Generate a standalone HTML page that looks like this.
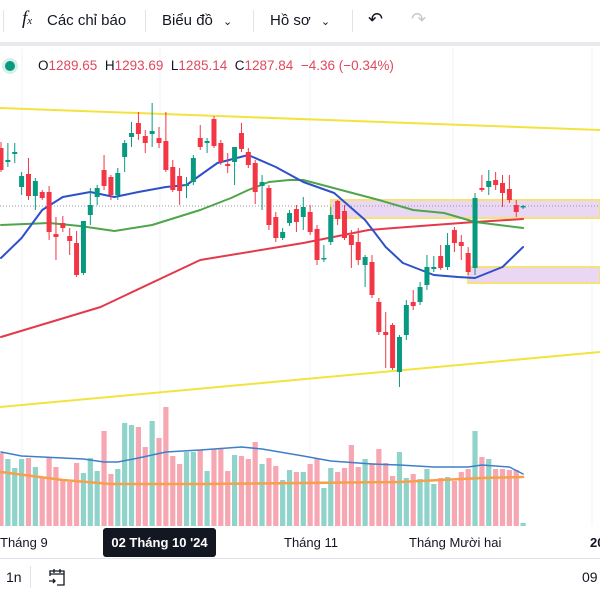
<!DOCTYPE html>
<html><head><meta charset="utf-8">
<style>
html,body{margin:0;padding:0;background:#fff;width:600px;height:600px;overflow:hidden;font-family:"Liberation Sans","Noto Sans CJK SC",sans-serif;}
#tb{position:absolute;left:0;top:0;width:600px;height:42px;background:#fff;}
#tbline{position:absolute;left:0;top:42px;width:600px;height:4px;background:#e9eaee;}
.t{position:absolute;color:#131722;font-size:15px;white-space:nowrap;}
.sep{position:absolute;top:10px;width:1px;height:22px;background:#e0e3eb;}
#legend{position:absolute;left:38px;top:58px;font-size:13.5px;white-space:nowrap;color:#131722;}
#legend .v{color:#e0495e;}
#chart{position:absolute;left:0;top:0;}
#ax{position:absolute;left:0;top:558px;width:600px;height:1px;background:#e0e3eb;}
</style></head><body>
<div id="tb">
  <div class="sep" style="left:3px"></div>
  <div class="t" style="left:22px;top:8px;font-family:'Liberation Serif',serif;font-style:italic;font-size:19px">f<span style="font-size:11px">x</span></div>
  <div class="t" style="left:47px;top:12px">Các chỉ báo</div>
  <div class="sep" style="left:145px"></div>
  <div class="t" style="left:162px;top:12px">Biểu đồ <span style="font-size:11px;margin-left:6px">&#8964;</span></div>
  <div class="sep" style="left:253px"></div>
  <div class="t" style="left:270px;top:12px">Hồ sơ <span style="font-size:11px;margin-left:6px">&#8964;</span></div>
  <div class="sep" style="left:352px"></div>
  <div class="t" style="left:368px;top:9px;font-size:18px">&#8630;</div>
  <div class="t" style="left:411px;top:9px;font-size:18px;color:#c5c8d0">&#8631;</div>
</div>
<div id="tbline"></div>
<svg id="chart" width="600" height="600"></svg>
<div style="position:absolute;left:5px;top:61px;width:10px;height:10px;border-radius:50%;background:#089981;box-shadow:0 0 0 3px #d6efe9"></div>
<div id="legend">O<span class="v">1289.65</span>&nbsp; H<span class="v">1293.69</span>&nbsp; L<span class="v">1285.14</span>&nbsp; C<span class="v">1287.84</span>&nbsp; <span class="v">−4.36 (−0.34%)</span></div>
<div id="ax"></div>
<div class="t" style="left:0px;top:535px;font-size:13px">Tháng 9</div>
<div style="position:absolute;left:103px;top:528px;width:113px;height:29px;background:#131722;border-radius:3px;color:#fff;font-size:13px;font-weight:bold;line-height:29px;text-align:center">02 Tháng 10 '24</div>
<div class="t" style="left:284px;top:535px;font-size:13px">Tháng 11</div>
<div class="t" style="left:409px;top:535px;font-size:13px">Tháng Mười hai</div>
<div class="t" style="left:590px;top:535px;font-size:13px;font-weight:bold">20</div>
<div class="t" style="left:6px;top:569px;font-size:14px">1n</div>
<div style="position:absolute;left:30px;top:566px;width:1px;height:22px;background:#e0e3eb"></div>
<svg style="position:absolute;left:46px;top:566px" width="22" height="22"><path d="M4 10V5h14v14h-7M4 8h14M8 3v4M14 3v4M3 15h6M7 13l2 2-2 2" fill="none" stroke="#131722" stroke-width="1.3"/></svg>
<div class="t" style="left:582px;top:569px;font-size:14px">09</div>
<script>
const opens=[1352,1338,1346,1313,1326,1304,1308,1308,1266,1277,1264,1257,1227,1285,1303,1330,1323,1305,1343,1363,1377,1364,1366,1362,1359,1333,1324,1314,1318,1362,1357,1381,1357,1336,1338,1367,1348,1337,1314,1312,1283,1262,1277,1291,1283,1288,1271,1241,1258,1299,1289,1265,1258,1235,1238,1198,1168,1175,1128,1165,1198,1198,1215,1231,1244,1233,1270,1258,1247,1232,1312,1313,1320,1317,1311,1295,1293];
const highs=[1358,1357,1357,1328,1342,1322,1310,1314,1283,1284,1272,1269,1279,1312,1315,1345,1325,1332,1360,1378,1388,1370,1397,1373,1388,1340,1332,1323,1345,1375,1362,1384,1360,1347,1353,1377,1352,1340,1325,1315,1288,1272,1290,1295,1303,1295,1275,1255,1293,1300,1295,1270,1272,1245,1245,1202,1188,1177,1165,1200,1210,1218,1245,1244,1255,1267,1273,1265,1253,1307,1325,1330,1328,1325,1325,1300,1295];
const lows=[1328,1333,1337,1305,1300,1290,1300,1260,1240,1268,1245,1223,1225,1275,1295,1310,1300,1300,1328,1353,1360,1347,1353,1352,1328,1308,1295,1302,1315,1350,1347,1352,1335,1327,1315,1348,1332,1296,1290,1270,1258,1260,1274,1268,1270,1265,1235,1238,1255,1275,1260,1232,1235,1213,1202,1165,1132,1130,1113,1160,1190,1195,1210,1228,1230,1230,1248,1240,1225,1225,1308,1305,1310,1293,1297,1283,1291];
const closes=[1330,1340,1348,1324,1304,1319,1302,1268,1263,1272,1259,1225,1279,1295,1312,1314,1305,1327,1357,1367,1366,1357,1369,1357,1330,1310,1309,1316,1342,1353,1359,1354,1338,1334,1353,1351,1335,1308,1318,1275,1262,1268,1287,1278,1293,1268,1240,1242,1285,1281,1262,1255,1240,1243,1205,1168,1165,1132,1163,1195,1194,1213,1233,1233,1232,1255,1257,1254,1228,1302,1310,1319,1315,1307,1300,1288,1294];
const volumes=[73,67,58,67,68,59,49,68,59,46,44,63,53,68,55,95,52,57,103,101,99,79,105,88,119,70,62,74,74,76,55,77,77,55,71,70,67,84,62,68,60,46,56,54,54,62,67,38,58,54,58,81,59,67,63,77,63,50,74,48,52,47,57,42,48,49,45,54,57,95,69,67,57,57,56,56,3];
const ma20Idx=[0,3,6,9,13,16.5,20,24,27,31.5,36,40,44,48.5,53,56,58.5,63,66.5,69,73,76];
const ma20Val=[1242,1262,1290,1303,1308,1303,1308,1313,1315,1337,1345,1333,1318,1307,1280,1253,1237,1225,1223,1222,1233,1253];
const ma50Idx=[0,7,11.5,16.5,22,29,33.5,36,39,42,44,55,60,64.5,69,76];
const ma50Val=[1275,1277,1274,1269,1275,1290,1302,1310,1318,1320,1320,1300,1290,1287,1278,1272];
const ma200Idx=[0,14.5,29,44,53.5,63,69,76];
const ma200Val=[1163,1193,1240,1257,1270,1275,1278,1281];
const volMaIdx=[0,3,9,12,15,17,20,24,29,35,38,44,48,54,58,63,68,70,74,76];
const volMaVal=[74,70,68,67,64,64,68,74,76,79,77,70,65,62,61,59,59,61,59,52];
const volMa2Idx=[0,9,16,29,44,58,70,76];
const volMa2Val=[54,46,42,42,43,44,48,49];
const trendTop=[[-0.15,1392],[87.2,1370]];
const trendBottom=[[-0.15,1093],[87.2,1148]];
const zoneUpper=[48,1300,1282];
const zoneLower=[68,1233,1217];
const lastClose=1294;

const svg=document.getElementById('chart');
const NS='http://www.w3.org/2000/svg';
const xS=i=>1+i*6.87;
const yS=p=>1500-p;
const vS=v=>526-v;
function mk(tag,attrs){const e=document.createElementNS(NS,tag);for(const k in attrs)e.setAttribute(k,attrs[k]);svg.appendChild(e);return e;}
// grid
[22,160,310,453,592].forEach(x=>{const g=mk('line',{x1:x,x2:x,y1:48,y2:526,stroke:'#f2f3f7','stroke-width':1});

});
// zones
[zoneUpper,zoneLower].forEach(z=>{
 const r=mk('rect',{x:xS(z[0]),y:yS(z[1]),width:600-xS(z[0]),height:yS(z[2])-yS(z[1]),fill:'#e1c9f0','fill-opacity':0.75,stroke:'#f5e27a','stroke-width':2});
 
 
});
// trend lines
[trendTop,trendBottom].forEach(t=>{
 const l=mk('line',{x1:xS(t[0][0]),y1:yS(t[0][1]),x2:xS(t[1][0]),y2:yS(t[1][1]),stroke:'#f3e33f','stroke-width':2});
 
 
});
// dotted last price
const dl=mk('line',{x1:0,x2:600,y1:yS(lastClose),y2:yS(lastClose),stroke:'#9598a1','stroke-width':1,'stroke-dasharray':'1 2'});


// volumes
volumes.forEach((v,i)=>{
 const up=closes[i]>=opens[i];
 const b=mk('rect',{x:xS(i)-2.6,y:vS(v),width:5.2,height:v,fill:up?'#8fd3ca':'#f6a7b2'});
 
 
});
function poly(idx,val,sc,color,w,name){
 const pts=idx.map((x,k)=>xS(x).toFixed(1)+','+sc(val[k]).toFixed(1)).join(' ');
 const p=mk('polyline',{points:pts,fill:'none',stroke:color,'stroke-width':w,'stroke-linejoin':'round','stroke-linecap':'round'});
 
 
}
poly(volMa2Idx,volMa2Val,vS,'#f5a04a',2.5,'volume-ma-slow');
poly(volMaIdx,volMaVal,vS,'#3f7fc9',1.5,'volume-ma-fast');
poly(ma200Idx,ma200Val,yS,'#e23a4a',2,'ma200-line');
poly(ma50Idx,ma50Val,yS,'#4ea54a',2,'ma50-line');
poly(ma20Idx,ma20Val,yS,'#2f50c8',2,'ma20-line');
// candles
opens.forEach((o,i)=>{
 const c=closes[i],up=c>=o,col=up?'#089981':'#f23645';
 const w=mk('line',{x1:xS(i),x2:xS(i),y1:yS(highs[i]),y2:yS(lows[i]),stroke:col,'stroke-width':1});
 
 
 const top=yS(Math.max(o,c)),h=Math.max(1.5,Math.abs(o-c));
 const b=mk('rect',{x:xS(i)-2.5,y:top,width:5,height:h,fill:col});
 
 
});
</script>
</body></html>
